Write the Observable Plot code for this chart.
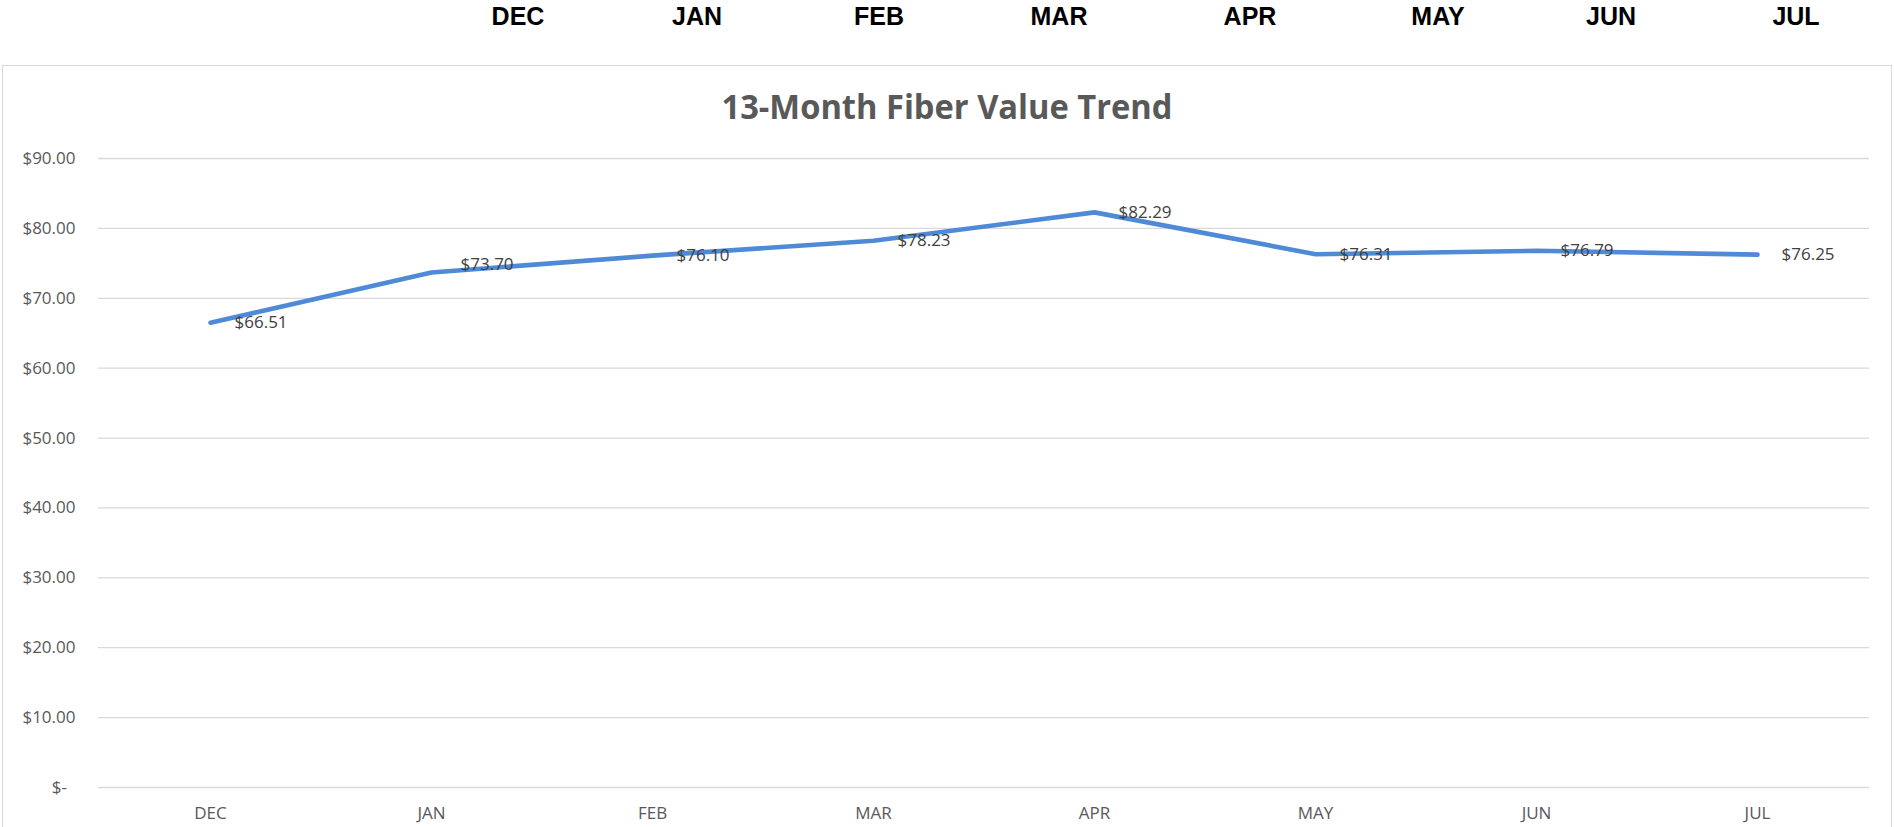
<!DOCTYPE html>
<html>
<head>
<meta charset="utf-8">
<script src="https://cdn.jsdelivr.net/npm/d3@7"></script>
<script src="https://cdn.jsdelivr.net/npm/@observablehq/plot@0.6"></script>
<style>
  html, body { margin: 0; padding: 0; background: #fff; }
  #page { position: relative; width: 1894px; height: 827px; overflow: hidden; background: #fff; }
  .hdr { position: absolute; top: 4px; font: bold 25px "Liberation Sans", Arial, sans-serif; line-height: 1; color: #000; transform: translateX(-50%); white-space: nowrap; }
  #box { position: absolute; left: 2px; top: 65px; width: 1890px; height: 800px; border: 1px solid #d9d9d9; box-sizing: border-box; }
  #title { position: absolute; left: 947px; top: 89px; font: bold 34px "Open Sans", sans-serif; line-height: 1; color: #595959; white-space: nowrap; transform-origin: 50% 50%; }
  #chart { position: absolute; left: 0; top: 120px; }
</style>
</head>
<body>
<div id="page">
  <div id="header"></div>
  <div id="box"></div>
  <div id="title"></div>
  <div id="chart"></div>
</div>
<script>
// ---- data ----
const months = ["DEC", "JAN", "FEB", "MAR", "APR", "MAY", "JUN", "JUL"];
const values = [66.51, 73.70, 76.10, 78.23, 82.29, 76.31, 76.79, 76.25];
const yTicks = [0, 10, 20, 30, 40, 50, 60, 70, 80, 90];
const headerLabels = ["DEC", "JAN", "FEB", "MAR", "APR", "MAY", "JUN", "JUL"];
const chartTitle = "13-Month Fiber Value Trend";

// ---- layout (spreadsheet column centres of the header row) ----
const headerCenters = [518, 697, 879, 1059, 1250, 1438, 1611, 1796];

const header = document.getElementById("header");
headerLabels.forEach((t, i) => {
  const d = document.createElement("div");
  d.className = "hdr";
  d.style.left = headerCenters[i] + "px";
  d.textContent = t;
  header.appendChild(d);
});

const titleEl = document.getElementById("title");
titleEl.textContent = chartTitle;
const tw = titleEl.getBoundingClientRect().width;
titleEl.style.transform = `translateX(-50%) scaleX(${451 / tw})`;

const data = months.map((m, i) => ({month: m, value: values[i]}));
const money = v => "$" + v.toFixed(2);
const axisFmt = v => v === 0 ? "$-\u2002" : "$" + v.toFixed(2);

const chart = Plot.plot({
  width: 1894,
  height: 707,
  marginLeft: 98,
  marginRight: 25,
  marginTop: 38,
  marginBottom: 40,
  style: {fontFamily: '"Open Sans", sans-serif', fontSize: "17px", background: "transparent", overflow: "visible"},
  x: {type: "point", domain: months, padding: 0.5, align: 0.5, axis: null},
  y: {domain: [0, 90], axis: null},
  marks: [
    Plot.gridY(yTicks, {stroke: "#d9d9d9", strokeOpacity: 1, strokeWidth: 1.3}),
    Plot.axisY(yTicks, {tickSize: 0, tickPadding: 23, tickFormat: axisFmt, fill: "#595959", fontSize: 17, label: null}),
    Plot.axisX({tickSize: 0, tickPadding: 19, fill: "#595959", fontSize: 17, label: null}),
    Plot.line(data, {x: "month", y: "value", stroke: "#4e8ad6", strokeWidth: 4.6, strokeLinecap: "round", strokeLinejoin: "round"}),
    Plot.text(data.filter(d => d.month !== "JAN"), {x: "month", y: "value", text: d => money(d.value), textAnchor: "start", dx: 24, fill: "#404040", fontSize: 17}),
    Plot.text(data.filter(d => d.month === "JAN"), {x: "month", y: "value", text: d => money(d.value), textAnchor: "start", dx: 29, dy: -8, fill: "#404040", fontSize: 17})
  ]
});
document.getElementById("chart").appendChild(chart);
</script>
</body>
</html>
